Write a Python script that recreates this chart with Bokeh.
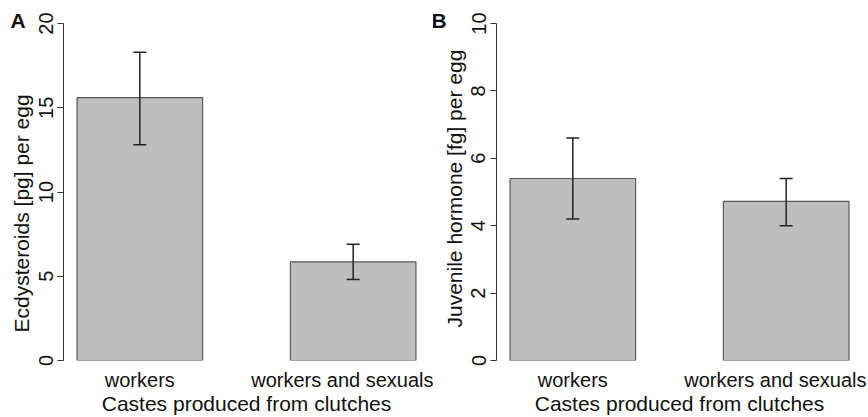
from bokeh.plotting import figure
from bokeh.models import (ColumnDataSource, FixedTicker, Whisker, TeeHead, Range1d, Title)
from bokeh.layouts import row
from bokeh.embed import file_html
from bokeh.resources import INLINE

# ---- data ----
categories = ["workers", "workers and sexuals"]

ecdy_mean = [15.6, 5.85]
ecdy_lower = [12.8, 4.8]
ecdy_upper = [18.3, 6.9]

jh_mean = [5.4, 4.72]
jh_lower = [4.2, 4.0]
jh_upper = [6.6, 5.4]

ecdy_ticks = [0, 5, 10, 15, 20]
jh_ticks = [0, 2, 4, 6, 8, 10]

FONT = "Liberation Sans"
SPACE = 0.7
centers = [round(SPACE + 0.5 + i * (1 + SPACE), 3) for i in range(len(categories))]
x_lo = SPACE
x_hi = centers[-1] + 0.5
pad = 0.04 * (x_hi - x_lo)

FRAME_W = 366
BORDER_L = 63
TOP = 23
H = 417


def panel(mean, lower, upper, ticks, ylabel, ylabel_off, letter, width, letter_off):
    p = figure(width=width, height=H, output_backend="svg", toolbar_location=None,
               x_range=Range1d(x_lo - pad, x_hi + pad),
               y_range=Range1d(ticks[0], ticks[-1]),
               min_border_left=BORDER_L, min_border_right=width - BORDER_L - FRAME_W,
               min_border_top=TOP, min_border_bottom=0)
    p.outline_line_color = None
    p.grid.visible = False
    p.background_fill_color = "white"

    # panel letter as the (left-aligned, shifted) title
    p.title.text = letter
    p.title.align = "left"
    p.title.offset = letter_off
    p.title.standoff = -16
    p.title.vertical_align = "bottom"
    p.title.text_font = FONT
    p.title.text_font_size = "21px"
    p.title.text_font_style = "bold"
    p.title.text_color = "#111111"

    src = ColumnDataSource(dict(x=centers, top=mean, lower=lower, upper=upper))
    p.vbar(x="x", top="top", bottom=0, width=1.0, source=src,
           fill_color="#BEBEBE", line_color="#555555", line_width=1.2)
    w = Whisker(source=src, base="x", lower="lower", upper="upper",
                line_color="#222222", line_width=1.5, level="overlay",
                upper_head=TeeHead(size=13, line_color="#222222", line_width=1.5),
                lower_head=TeeHead(size=13, line_color="#222222", line_width=1.5))
    p.add_layout(w)

    ya = p.yaxis[0]
    ya.ticker = FixedTicker(ticks=ticks)
    ya.minor_tick_line_color = None
    ya.major_tick_in = 0
    ya.major_tick_out = 6
    ya.axis_line_color = "#333333"
    ya.major_tick_line_color = "#333333"
    ya.major_label_orientation = "vertical"
    ya.major_label_text_font = FONT
    ya.major_label_text_font_size = "20px"
    ya.major_label_text_color = "#111111"
    ya.major_label_standoff = 5

    # y-axis title as a left-side title, starting ylabel_off px above the frame bottom
    yt = Title(text=ylabel, align="left", offset=ylabel_off, standoff=6,
               vertical_align="bottom",
               text_font=FONT, text_font_size="21px", text_font_style="normal",
               text_color="#111111")
    p.add_layout(yt, "left")

    xa = p.xaxis[0]
    xa.ticker = FixedTicker(ticks=centers)
    xa.major_label_overrides = {c: lab for c, lab in zip(centers, categories)}
    xa.axis_line_color = None
    xa.major_tick_line_color = None
    xa.minor_tick_line_color = None
    xa.major_tick_out = 0
    xa.major_tick_in = 0
    xa.major_label_text_font = FONT
    xa.major_label_text_font_size = "20px"
    xa.major_label_text_color = "#111111"
    xa.major_label_standoff = 8
    xa.axis_label = "Castes produced from clutches"
    xa.axis_label_text_font = FONT
    xa.axis_label_text_font_size = "21px"
    xa.axis_label_text_font_style = "normal"
    xa.axis_label_text_color = "#111111"
    xa.axis_label_standoff = -2
    return p


pa = panel(ecdy_mean, ecdy_lower, ecdy_upper, ecdy_ticks,
           "Ecdysteroids [pg] per egg", 28, "A", 433, -53)
pb = panel(jh_mean, jh_lower, jh_upper, jh_ticks,
           "Juvenile hormone [fg] per egg", 33, "B", 433, -65)

layout = row(pa, pb)
open("out.html", "w").write(file_html(layout, INLINE))
